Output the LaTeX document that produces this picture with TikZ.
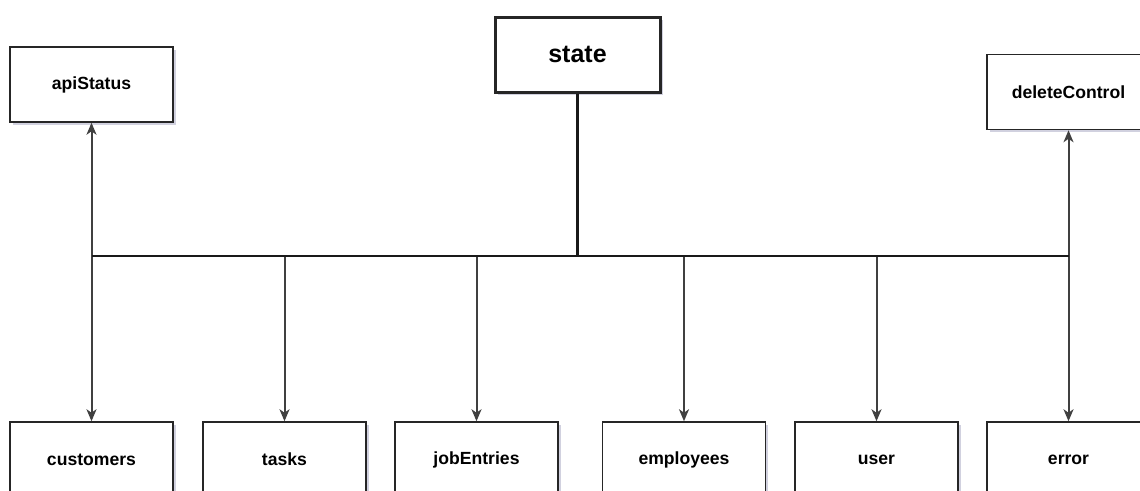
\documentclass[tikz,border=0pt]{standalone}
\usepackage{fontspec}
\setmainfont{Liberation Sans}
\usetikzlibrary{arrows.meta,shadows}

\tikzset{
  boxshadow/.style={drop shadow={shadow xshift=2.5pt, shadow yshift=-2.5pt, opacity=0.3, fill=blue!30!black!60}},
  store/.style={draw=black!85, fill=white, line width=1.5pt, minimum width=163pt, minimum height=75pt,
    inner sep=0pt, font=\bfseries\fontsize{17.6}{20}\selectfont, boxshadow},
  root/.style={store, line width=3pt, minimum width=165pt, minimum height=75pt,
    font=\bfseries\fontsize{25}{28}\selectfont},
  busline/.style={line width=2.4pt, black!90},
  link/.style={line width=2pt, black!75, -{Stealth[length=12pt, width=10pt, inset=3.5pt]}},
}

\begin{document}
\begin{tikzpicture}[x=1pt, y=-1pt]
  \useasboundingbox (0,0) rectangle (1140,490);
  \clip (0,0) rectangle (1140,490);

  % root of the state tree
  \node[root] (state) at (577.5,54.5) {state};

  % top-level slices above the bus
  \node[store] (apiStatus) at (91.5,84.5) {apiStatus};
  \node[store] (deleteControl) at (1068.5,92) {deleteControl};

  % slices below the bus
  \node[store] (customers)  at (91.5,459.5)  {customers};
  \node[store] (tasks)      at (284.5,459.5) {tasks};
  \node[store] (jobEntries) at (476.5,459.5) {jobEntries};
  \node[store] (employees)  at (684,459.5)   {employees};
  \node[store] (user)       at (876.5,459.5) {user};
  \node[store] (error)      at (1068.5,459.5){error};

  % horizontal bus
  \coordinate (busL) at (91.5,256);
  \coordinate (busR) at (1068.5,256);
  \coordinate (busM) at (state.south |- busL);

  \draw[busline] (state.south) -- (busM);

  % branches
  \draw[link] (busL) -- (apiStatus.south);
  \draw[link] (busR) -- (deleteControl.south);
  \draw[link] (busL) -- (customers.north);
  \draw[link] (tasks.north |- busL) -- (tasks.north);
  \draw[link] (jobEntries.north |- busL) -- (jobEntries.north);
  \draw[link] (employees.north |- busL) -- (employees.north);
  \draw[link] (user.north |- busL) -- (user.north);
  \draw[link] (busR) -- (error.north);

  \draw[busline] (busL) -- (busR);
\end{tikzpicture}
\end{document}
